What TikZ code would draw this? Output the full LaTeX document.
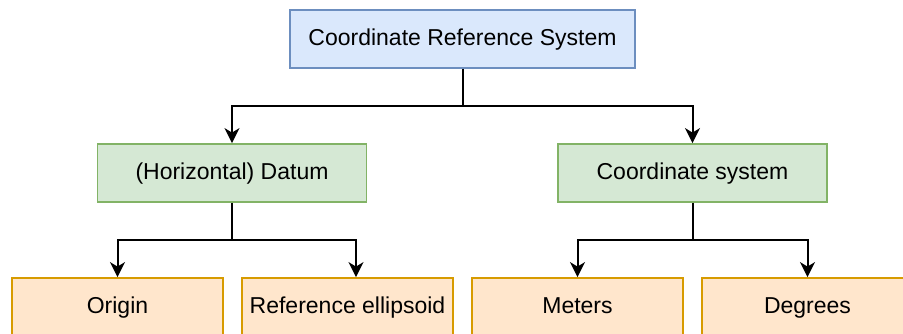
\documentclass[tikz,border=0pt]{standalone}
\usepackage{fontspec}
\setmainfont{Liberation Sans}
\usetikzlibrary{arrows.meta}
\definecolor{blueFill}{HTML}{DAE8FC}
\definecolor{blueLine}{HTML}{6C8EBF}
\definecolor{greenFill}{HTML}{D5E8D4}
\definecolor{greenLine}{HTML}{82B366}
\definecolor{orangeFill}{HTML}{FFE6CC}
\definecolor{orangeLine}{HTML}{D79B00}
\tikzset{
  box/.style={draw, line width=1.8pt, minimum height=58pt, inner sep=0pt,
    text height=16.5pt, text depth=4.5pt,
    font=\fontsize{23}{27}\selectfont, text=black},
  rootbox/.style={box, fill=blueFill, draw=blueLine, minimum width=345pt},
  midbox/.style={box, fill=greenFill, draw=greenLine, minimum width=269pt},
  leafbox/.style={box, fill=orangeFill, draw=orangeLine, minimum width=211pt},
  link/.style={draw=black, line width=2pt, -{Stealth[length=15pt,width=15pt,inset=4.5pt]}},
}
\begin{document}
\begin{tikzpicture}[x=1pt,y=-1pt]
  \useasboundingbox (0,0) rectangle (903,333);
  \clip (0,0) rectangle (903,333);
  \fill[white] (0,0) rectangle (903,333);

  % hierarchy of boxes
  \node[rootbox] (crs) at (462.5,39) {Coordinate Reference System};
  \node[midbox] (datum) at (232,173) {(Horizontal) Datum};
  \node[midbox] (cs) at (692.5,173) {Coordinate system};
  \node[leafbox] (origin) at (117.5,307) {Origin};
  \node[leafbox] (ellip) at (347.5,307) {Reference ellipsoid};
  \node[leafbox] (meters) at (577.5,307) {Meters};
  \node[leafbox] (degrees) at (807.5,307) {Degrees};

  % junction points of the elbow connectors
  \coordinate (j0) at (462.5,105.5);
  \coordinate (j1) at (232,239.5);
  \coordinate (j2) at (692.5,239.5);

  \draw[link] (crs.south) -- (j0) -| (datum.north);
  \draw[link] (crs.south) -- (j0) -| (cs.north);
  \draw[link] (datum.south) -- (j1) -| (origin.north);
  \draw[link] (datum.south) -- (j1) -| ([xshift=8.5pt]ellip.north);
  \draw[link] (cs.south) -- (j2) -| (meters.north);
  \draw[link] (cs.south) -- (j2) -| (degrees.north);
\end{tikzpicture}
\end{document}
